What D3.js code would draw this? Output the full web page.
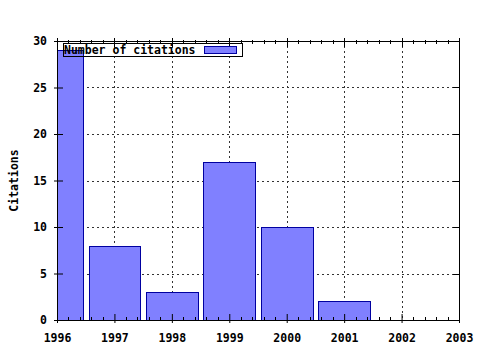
<!DOCTYPE html>
<html>
<head>
<meta charset="utf-8">
<script src="https://cdn.jsdelivr.net/npm/d3@7"></script>
<style>
  body { margin: 0; background: #fff; }
  text { font-family: "DejaVu Sans Mono", monospace; font-weight: bold; font-size: 11.5px; fill: #000; }
</style>
</head>
<body>
<div id="chart"></div>
<script>
const years = [1996, 1997, 1998, 1999, 2000, 2001];
const citations = [29, 8, 3, 17, 10, 2];
const xTicks = [1996, 1997, 1998, 1999, 2000, 2001, 2002, 2003];
const yTicks = [0, 5, 10, 15, 20, 25, 30];
const seriesName = 'Number of citations';
const yTitle = 'Citations';

const W = 480, H = 350;
const margin = { top: 41, right: 21, bottom: 30, left: 57 };
const width = W - margin.left - margin.right;
const height = H - margin.top - margin.bottom;

const svg = d3.select('#chart').append('svg')
  .attr('width', W).attr('height', H);

const g = svg.append('g')
  .attr('transform', `translate(${margin.left},${margin.top})`);

const x = d3.scaleLinear().domain([1996, 2003]).range([0, width]);
const y = d3.scaleLinear().domain([0, 30]).range([height, 0]);

// --- Grid ---
const gridStyle = sel => sel.attr('stroke', '#333').attr('stroke-width', 1).attr('stroke-dasharray', '2,3');
g.append('g').selectAll('line')
  .data(xTicks.slice(1, -1)).enter().append('line')
  .attr('x1', d => Math.round(x(d)) + 0.5).attr('x2', d => Math.round(x(d)) + 0.5)
  .attr('y1', 0).attr('y2', height)
  .call(gridStyle);
g.append('g').selectAll('line')
  .data(yTicks.slice(1, -1)).enter().append('line')
  .attr('y1', d => Math.round(y(d)) + 0.5).attr('y2', d => Math.round(y(d)) + 0.5)
  .attr('x1', 0).attr('x2', width)
  .call(gridStyle);

// --- Bars ---
g.append('clipPath').attr('id', 'clip')
  .append('rect').attr('width', width).attr('height', height);

const barW = 0.9;
g.append('g').attr('clip-path', 'url(#clip)')
  .selectAll('rect')
  .data(years.map((yr, i) => ({ yr, v: citations[i] })))
  .enter().append('rect')
  .attr('x', d => Math.round(x(d.yr - barW / 2)) + 0.5)
  .attr('width', d => Math.round(x(d.yr + barW / 2)) - Math.round(x(d.yr - barW / 2)))
  .attr('y', d => Math.round(y(d.v)) + 0.5)
  .attr('height', d => Math.round(y(0)) - Math.round(y(d.v)))
  .attr('fill', '#8080ff')
  .attr('stroke', '#0000a0')
  .attr('stroke-width', 1);

// --- Axes ---
const xMinor = d3.range(1996, 2003.001, 0.2);
const axisBottom = g.append('g').attr('transform', `translate(0,${height})`)
  .call(d3.axisBottom(x).tickValues(xTicks).tickFormat(d3.format('d')).tickSize(3).tickPadding(11));
const axisLeft = g.append('g')
  .call(d3.axisLeft(y).tickValues(yTicks).tickSize(3).tickPadding(7));

[axisBottom, axisLeft].forEach(a => {
  a.select('.domain').remove();
  a.selectAll('line').attr('stroke', '#000');
});
axisBottom.selectAll('.tick line').attr('y1', -6);
axisLeft.selectAll('.tick line').attr('x1', 6);

// minor ticks bottom/top
g.append('g').selectAll('line')
  .data(xMinor.filter(d => Math.abs(d - Math.round(d)) > 0.01)).enter().append('line')
  .attr('x1', d => Math.round(x(d)) + 0.5).attr('x2', d => Math.round(x(d)) + 0.5)
  .attr('y1', height - 3).attr('y2', height + 1).attr('stroke', '#000');
g.append('g').selectAll('line')
  .data(xMinor.filter(d => Math.abs(d - Math.round(d)) > 0.01)).enter().append('line')
  .attr('x1', d => Math.round(x(d)) + 0.5).attr('x2', d => Math.round(x(d)) + 0.5)
  .attr('y1', -1).attr('y2', 3).attr('stroke', '#000');
// mirror major ticks top/right
g.append('g').selectAll('line')
  .data(xTicks).enter().append('line')
  .attr('x1', d => Math.round(x(d)) + 0.5).attr('x2', d => Math.round(x(d)) + 0.5)
  .attr('y1', -3).attr('y2', 6).attr('stroke', '#000');
g.append('g').selectAll('line')
  .data(yTicks).enter().append('line')
  .attr('y1', d => Math.round(y(d)) + 0.5).attr('y2', d => Math.round(y(d)) + 0.5)
  .attr('x1', width - 6).attr('x2', width).attr('stroke', '#000');

// border
g.append('rect')
  .attr('x', 0.5).attr('y', 0.5)
  .attr('width', width).attr('height', height)
  .attr('fill', 'none').attr('stroke', '#000');

// --- Legend ---
const legend = g.append('g').attr('transform', 'translate(6,2)');
legend.append('rect')
  .attr('x', 0.5).attr('y', 0.5).attr('width', 179).attr('height', 13)
  .attr('fill', 'none').attr('stroke', '#000');
legend.append('text')
  .attr('x', 1).attr('y', 11)
  .text(seriesName);
legend.append('rect')
  .attr('x', 141.5).attr('y', 3.5).attr('width', 32).attr('height', 7)
  .attr('fill', '#8080ff').attr('stroke', '#0000a0');

// --- Y title ---
svg.append('text')
  .attr('transform', `translate(18,${margin.top + height / 2}) rotate(-90)`)
  .attr('text-anchor', 'middle')
  .text(yTitle);
</script>
</body>
</html>
